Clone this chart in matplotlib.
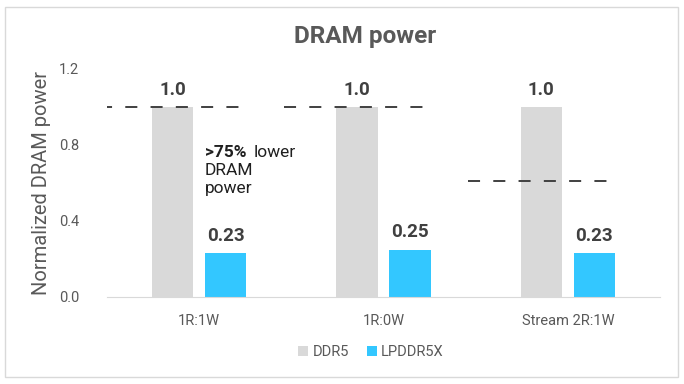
# DRAM power: DDR5 vs LPDDR5X, normalizado a DDR5
import numpy as np
import matplotlib
matplotlib.use("Agg")
import matplotlib.pyplot as plt
from matplotlib.patches import Rectangle

plt.rcParams["font.family"] = ["Roboto", "DejaVu Sans"]

categories = ["1R:1W", "1R:0W", "Stream 2R:1W"]
ddr5 = [1.0, 1.0, 1.0]
lpddr5x = [0.23, 0.25, 0.23]
ddr5_labels = ["1.0", "1.0", "1.0"]
lp_labels = ["0.23", "0.25", "0.23"]
ref_levels = [1.0, 1.0, 0.61]   # lineas discontinuas de referencia
yticks = [0.0, 0.4, 0.8, 1.2]

C_DDR = "#D9D9D9"
C_LP = "#33C7FF"
C_TXT = "#595959"
C_VAL = "#404040"

fig = plt.figure(figsize=(6.84, 3.84), dpi=100)
fig.patch.set_facecolor("white")
fig.add_artist(Rectangle((5 / 684, 7 / 384), 673 / 684, 370 / 384, transform=fig.transFigure,
                         fill=False, edgecolor="#D9D9D9", lw=1.0))
ax = fig.add_axes([107 / 684, 1 - 297 / 384, 553 / 684, 228 / 384])

x = np.arange(len(categories))
w = 0.223
off = 0.144
b1 = ax.bar(x - off, ddr5, w, color=C_DDR, label="DDR5", zorder=2)
b2 = ax.bar(x + off, lpddr5x, w, color=C_LP, label="LPDDR5X", zorder=2)

for rect, lab in zip(b1, ddr5_labels):
    ax.annotate(lab, (rect.get_x() + rect.get_width() / 2, rect.get_height()),
                xytext=(0, 6), textcoords="offset points", ha="center", va="bottom",
                fontsize=13.5, fontweight="bold", color=C_VAL)
for rect, lab in zip(b2, lp_labels):
    ax.annotate(lab, (rect.get_x() + rect.get_width() / 2, rect.get_height()),
                xytext=(0, 6), textcoords="offset points", ha="center", va="bottom",
                fontsize=13.5, fontweight="bold", color=C_VAL)

# lineas discontinuas
for xi, lvl in zip(x, ref_levels):
    ax.plot([xi - 0.54, xi + 0.27], [lvl, lvl], color="#404040", lw=1.4,
            ls=(0, (6.2, 6.8)), zorder=3)

# anotacion
ax.text(0.032, 0.737, ">75%", fontsize=12.5, fontweight="bold", color="#202020",
        ha="left", va="baseline")
ax.text(0.295, 0.737, "lower", fontsize=12.5, color="#202020", ha="left", va="baseline")
ax.text(0.032, 0.642, "DRAM", fontsize=12.5, color="#202020", ha="left", va="baseline")
ax.text(0.032, 0.547, "power", fontsize=12.5, color="#202020", ha="left", va="baseline")

ax.set_xlim(-0.5, 2.5)
ax.set_ylim(0, 1.2)
ax.set_yticks(yticks)
ax.set_yticklabels([f"{v:.1f}" for v in yticks])
ax.set_xticks(x)
ax.set_xticklabels(categories)
ax.tick_params(axis="both", length=0, colors=C_TXT, labelsize=10.5)
ax.tick_params(axis="x", pad=12)
ax.tick_params(axis="y", pad=20)
for s in ["top", "right", "left"]:
    ax.spines[s].set_visible(False)
ax.spines["bottom"].set_color("#D9D9D9")
ax.set_ylabel("Normalized DRAM power", fontsize=14.5, color=C_TXT, labelpad=6)

fig.text(365 / 684, 1 - 36 / 384, "DRAM power", ha="center", va="center",
         fontsize=17.5, fontweight="semibold", color=C_TXT)

fig.legend(handles=[b1, b2], loc="center", bbox_to_anchor=(371 / 684, 1 - 352 / 384),
           ncol=2, frameon=False, fontsize=10.5, handlelength=0.7, handleheight=0.7,
           handletextpad=0.3, columnspacing=1.2, labelcolor=C_TXT)

fig.savefig("out.png", dpi=100, facecolor="white")
